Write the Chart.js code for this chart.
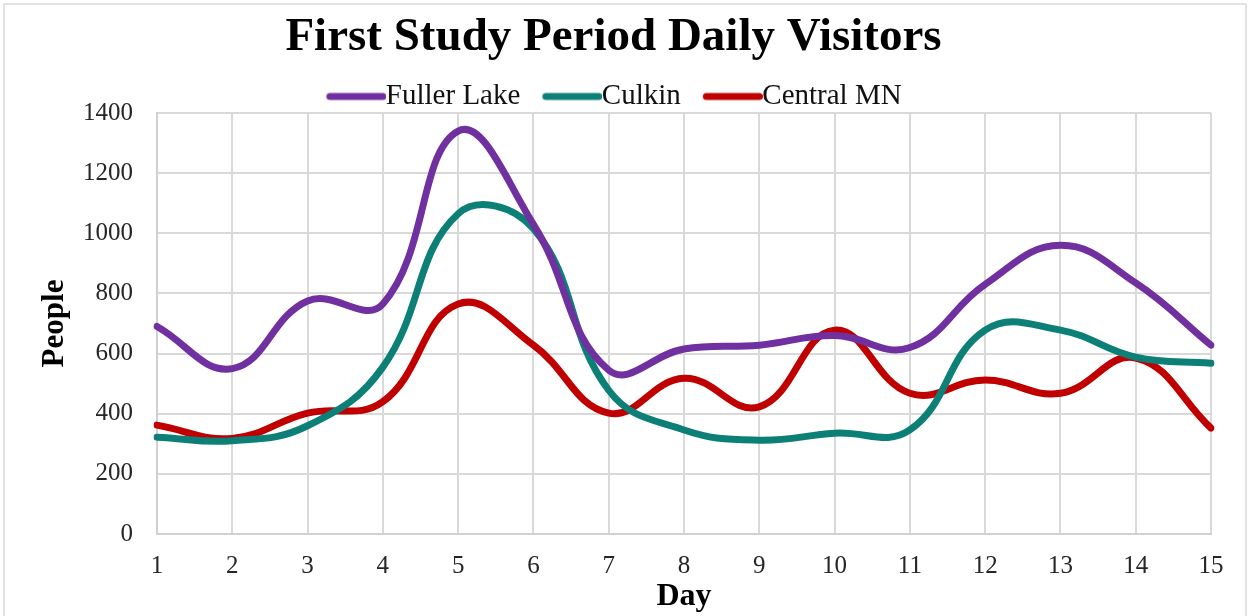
<!DOCTYPE html>
<html>
<head>
<meta charset="utf-8">
<script src="https://cdn.jsdelivr.net/npm/chart.js@4.4.1/dist/chart.umd.min.js"></script>
<style>
  html, body { margin: 0; padding: 0; background: #fff; }
  #wrap { position: relative; width: 1253px; height: 616px; overflow: hidden; }
  #frame { position: absolute; left: 3px; top: 3px; width: 1244px; height: 640px; border: 2px solid #e2e2e2; box-sizing: border-box; pointer-events: none; }
  canvas { position: absolute; left: 0; top: 0; }
</style>
</head>
<body>
<div id="wrap">
  <canvas id="visitors" width="1253" height="616"></canvas>
  <div id="frame"></div>
</div>
<script>
const days = ["1", "2", "3", "4", "5", "6", "7", "8", "9", "10", "11", "12", "13", "14", "15"];
const fullerLake = [690, 550, 775, 765, 1340, 1030, 545, 615, 628, 660, 620, 830, 960, 835, 628];
const culkin = [322, 310, 360, 555, 1065, 1015, 478, 346, 312, 335, 346, 678, 678, 588, 568];
const centralMN = [362, 318, 402, 440, 765, 628, 402, 518, 423, 678, 468, 512, 468, 585, 352];

const serif = "'Liberation Serif', 'Times New Roman', serif";

// legend marker: a rounded line drawn into a small canvas, sitting close to the label text
const legendMark = (color) => {
  const c = document.createElement("canvas");
  c.width = 76;
  c.height = 10;
  const g = c.getContext("2d");
  g.strokeStyle = color;
  g.lineWidth = 7;
  g.lineCap = "round";
  g.beginPath();
  g.moveTo(16 + 3.5, 5);
  g.lineTo(76 - 3.5, 5);
  g.stroke();
  return c;
};

const makeLine = (label, data, color) => ({
  label: label,
  data: data,
  borderColor: color,
  backgroundColor: color,
  borderWidth: 7,
  pointRadius: 0,
  pointStyle: legendMark(color),
  tension: 0.42,
  borderCapStyle: "round",
  fill: false,
});

let chart = new Chart(document.getElementById("visitors"), {
  type: "line",
  data: {
    labels: days,
    datasets: [
      makeLine("Fuller Lake", fullerLake, "#7030A0"),
      makeLine("Culkin", culkin, "#0C8077"),
      makeLine("Central MN", centralMN, "#C00000"),
    ],
  },
  options: {
    responsive: false,
    animation: false,
    layout: {
      padding: { left: 16, right: 42, top: 0, bottom: 0 },
    },
    plugins: {
      title: {
        display: true,
        text: "First Study Period Daily Visitors",
        color: "#000",
        font: { family: serif, size: 47, weight: "bold", lineHeight: 1 },
        padding: { top: 14, bottom: 0 },
      },
      legend: {
        position: "top",
        maxHeight: 52,
        labels: {
          color: "#111",
          font: { family: serif, size: 29 },
          usePointStyle: true,
          pointStyleWidth: 46,
          boxHeight: 7,
          padding: 21,
        },
      },
      tooltip: { enabled: false },
    },
    scales: {
      x: {
        grid: { color: "#d9d9d9", lineWidth: 2, drawTicks: false },
        border: { color: "#d0d0d0", width: 2 },
        ticks: {
          color: "#262626",
          font: { family: serif, size: 25 },
          padding: 17,
          maxRotation: 0,
        },
        title: {
          display: true,
          text: "Day",
          color: "#000",
          font: { family: serif, size: 32, weight: "bold" },
          padding: { top: 0, bottom: 0 },
        },
        afterFit: (scale) => {
          scale.height = 82;
        },
      },
      y: {
        min: 0,
        max: 1400,
        grid: { color: "#d9d9d9", lineWidth: 2, drawTicks: false },
        border: { color: "#d0d0d0", width: 2 },
        ticks: {
          stepSize: 200,
          color: "#262626",
          font: { family: serif, size: 25 },
          padding: 24,
          callback: (v) => String(v),
        },
        title: {
          display: true,
          text: "People",
          color: "#000",
          font: { family: serif, size: 31, weight: "bold" },
          padding: { top: 20, bottom: 0 },
        },
        afterFit: (scale) => {
          scale.width = 141;
        },
      },
    },
  },
});
</script>
</body>
</html>
